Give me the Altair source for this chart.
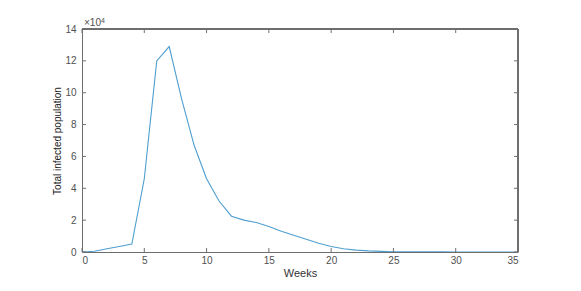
import altair as alt
import pandas as pd

weeks = list(range(0, 36))
infected = [0, 0.05, 0.2, 0.35, 0.5, 4.6, 12.0, 12.9, 9.6, 6.7, 4.6, 3.2, 2.25, 2.0, 1.85,
            1.6, 1.3, 1.05, 0.8, 0.55, 0.35, 0.2, 0.12, 0.07, 0.04, 0.02, 0.015, 0.01, 0.008,
            0.005, 0.004, 0.003, 0.002, 0.001, 0.001, 0.0]
x_ticks = [0, 5, 10, 15, 20, 25, 30, 35]
y_ticks = [0, 2, 4, 6, 8, 10, 12, 14]

W, H = 436, 223
AX = "#6e6e6e"
LB = "#505050"
df = pd.DataFrame({"week": weeks, "inf": infected})

xs = alt.Scale(domain=[0, 35], nice=False)
ys = alt.Scale(domain=[0, 14], nice=False)

xaxis = alt.Axis(values=x_ticks, title="Weeks", grid=False, ticks=False, domainColor=AX,
                 labelColor=LB, labelFontSize=10, labelFont="Liberation Sans", labelPadding=3,
                 labelOverlap=False,
                 titleFont="Liberation Sans", titleFontSize=11, titleFontWeight="normal",
                 titleColor="#333", titlePadding=2, domainWidth=1)
yaxis = alt.Axis(values=y_ticks, title="Total infected population", grid=False, ticks=False,
                 domainColor=AX, labelColor=LB, labelFontSize=10, labelFont="Liberation Sans",
                 labelPadding=6, labelOverlap=False,
                 titleFont="Liberation Sans", titleFontSize=10,
                 titleFontWeight="normal", titleColor="#222", titlePadding=2, domainWidth=1)

line = alt.Chart(df).mark_line(color="#4f9fd0", strokeWidth=1.1, clip=True).encode(
    x=alt.X("week:Q", scale=xs, axis=xaxis, title="Weeks"),
    y=alt.Y("inf:Q", scale=ys, axis=yaxis, title="Total infected population"),
)

xt = pd.DataFrame({"t": x_ticks})
yt = pd.DataFrame({"t": y_ticks})
tl = 4
xb = alt.Chart(xt).mark_rule(color=AX, strokeWidth=1).encode(
    x=alt.X("t:Q", scale=xs, axis=xaxis, title="Weeks"), y=alt.value(H), y2=alt.value(H - tl))
xtop = alt.Chart(xt).mark_rule(color=AX, strokeWidth=1).encode(
    x=alt.X("t:Q", scale=xs, axis=xaxis, title="Weeks"), y=alt.value(0), y2=alt.value(tl))
yl = alt.Chart(yt).mark_rule(color=AX, strokeWidth=1).encode(
    y=alt.Y("t:Q", scale=ys, axis=yaxis, title="Total infected population"), x=alt.value(0), x2=alt.value(tl))
yr = alt.Chart(yt).mark_rule(color=AX, strokeWidth=1).encode(
    y=alt.Y("t:Q", scale=ys, axis=yaxis, title="Total infected population"), x=alt.value(W), x2=alt.value(W - tl))
top = alt.Chart(xt).mark_rule(color=AX, strokeWidth=1).encode(
    x=alt.value(0), x2=alt.value(W), y=alt.value(0))
right = alt.Chart(xt).mark_rule(color=AX, strokeWidth=1).encode(
    x=alt.value(W), y=alt.value(0), y2=alt.value(H))

mult = alt.Chart(pd.DataFrame({"s": ["×10"]})).mark_text(
    align="left", baseline="bottom", fontSize=10, font="Liberation Sans", color=LB
).encode(text="s:N", x=alt.value(2), y=alt.value(-1))
expo = alt.Chart(pd.DataFrame({"s": ["4"]})).mark_text(
    align="left", baseline="bottom", fontSize=7, font="Liberation Sans", color=LB
).encode(text="s:N", x=alt.value(19), y=alt.value(-5))

chart = alt.layer(line, xb, xtop, yl, yr, top, right, mult, expo).properties(
    width=W, height=H,
    autosize=alt.AutoSizeParams(type="none"),
    padding={"left": 74, "top": 21, "right": 50, "bottom": 40},
).configure_view(stroke=None).configure_axis(labelOverlap=False)

chart.save("out.html", embed_options={"renderer": "svg", "actions": False})
